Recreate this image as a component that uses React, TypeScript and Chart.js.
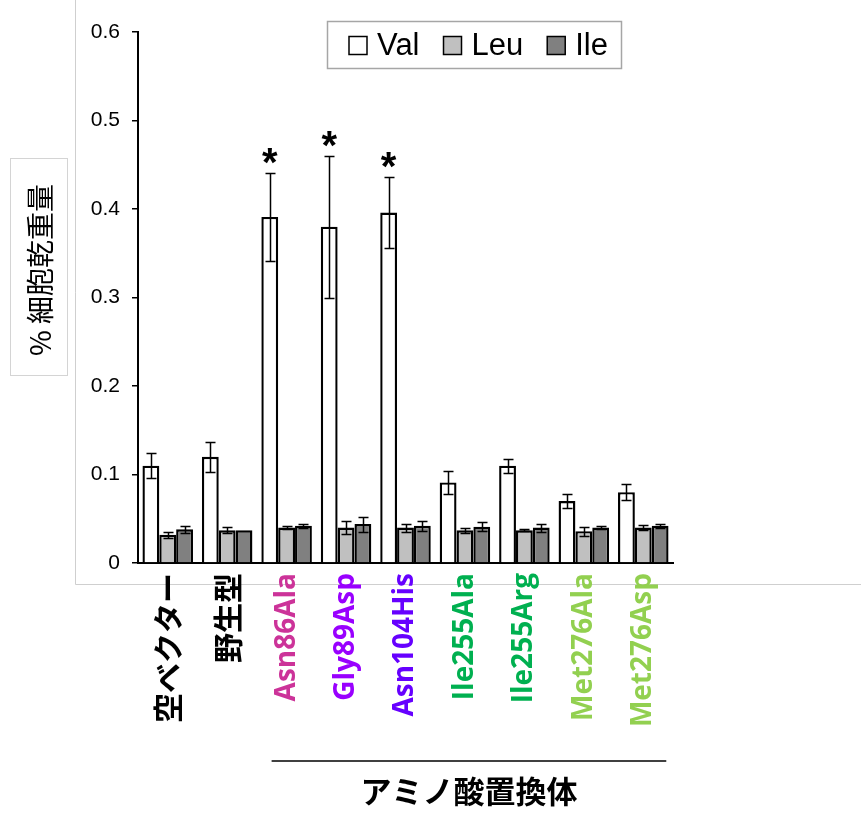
import React, { useEffect, useRef } from 'react';
import { Chart, registerables } from 'chart.js';

Chart.register(...registerables);

const categories = ['空ベクター', '野生型', 'Asn86Ala', 'Gly89Asp', 'Asn104His', 'Ile255Ala', 'Ile255Arg', 'Met276Ala', 'Met276Asp'];
const labelColors = ['#000000', '#000000', '#cc3399', '#9900ff', '#6600ff', '#00b050', '#00b050', '#92d050', '#92d050'];
const cjkLabel = [true, true, false, false, false, false, false, false, false];

const seriesNames = ['Val', 'Leu', 'Ile'];
const valValues = [0.110, 0.120, 0.391, 0.380, 0.396, 0.091, 0.110, 0.070, 0.080];
const valErrors = [0.0145, 0.017, 0.050, 0.080, 0.040, 0.0125, 0.008, 0.008, 0.009];
const leuValues = [0.032, 0.037, 0.040, 0.040, 0.040, 0.037, 0.037, 0.036, 0.040];
const leuErrors = [0.0035, 0.0035, 0.002, 0.0075, 0.0045, 0.003, 0.001, 0.005, 0.003];
const ileValues = [0.038, 0.037, 0.042, 0.044, 0.042, 0.041, 0.040, 0.040, 0.042];
const ileErrors = [0.004, 0, 0.0025, 0.0085, 0.0057, 0.005, 0.0045, 0.002, 0.002];
const significant = [false, false, true, true, true, false, false, false, false];

const yMin = 0;
const yMax = 0.6;
const yStep = 0.1;

const yTitle = '% 細胞乾重量';
const groupTitle = 'アミノ酸置換体';
const groupStart = 2;
const groupEnd = 8;

const seriesColors = ['#ffffff', '#c0c0c0', '#808080'];

const W = 861;
const H = 813;

const decorPlugin = {
  id: 'decor',
  beforeDraw(chart: any) {
    const ctx = chart.ctx;
    ctx.save();
    ctx.strokeStyle = '#cfcfcf';
    ctx.lineWidth = 1;
    ctx.beginPath();
    ctx.moveTo(75.5, 0);
    ctx.lineTo(75.5, 584.5);
    ctx.lineTo(W, 584.5);
    ctx.stroke();
    ctx.restore();
  },
  afterDatasetsDraw(chart: any) {
    const ctx = chart.ctx;
    const y = chart.scales.y;
    ctx.save();
    ctx.strokeStyle = '#000';
    ctx.lineWidth = 1.5;
    chart.data.datasets.forEach((ds: any, di: number) => {
      const meta = chart.getDatasetMeta(di);
      meta.data.forEach((el: any, i: number) => {
        const v = ds.data[i];
        const e = ds.errors[i];
        if (!e) return;
        const yt = Math.round(y.getPixelForValue(v + e)) + 0.5;
        const yb = Math.round(y.getPixelForValue(v - e)) + 0.5;
        const x = Math.round(el.x) + 0.5;
        ctx.beginPath();
        ctx.moveTo(x, yt);
        ctx.lineTo(x, yb);
        ctx.moveTo(x - 5, yt);
        ctx.lineTo(x + 5, yt);
        ctx.moveTo(x - 5, yb);
        ctx.lineTo(x + 5, yb);
        ctx.stroke();
      });
    });
    // significance stars
    const meta0 = chart.getDatasetMeta(0);
    ctx.fillStyle = '#000';
    ctx.font = 'bold 40px "Liberation Sans"';
    ctx.textAlign = 'center';
    ctx.textBaseline = 'alphabetic';
    significant.forEach((s, i) => {
      if (!s) return;
      const el = meta0.data[i];
      const top = y.getPixelForValue(valValues[i] + valErrors[i]);
      ctx.fillText('*', el.x, top - 19 + 22);
    });
    ctx.restore();
  },
  afterDraw(chart: any) {
    const ctx = chart.ctx;
    const x = chart.scales.x;
    ctx.save();
    // legend
    ctx.fillStyle = '#ffffff';
    ctx.fillRect(327, 21, 295, 48);
    ctx.strokeStyle = '#a6a6a6';
    ctx.lineWidth = 1.5;
    ctx.strokeRect(327.5, 21.5, 294, 47);
    ctx.font = '31px "Liberation Sans"';
    ctx.textBaseline = 'middle';
    ctx.textAlign = 'left';
    let lx = 349;
    const ly = 45.5;
    chart.data.datasets.forEach((ds: any) => {
      ctx.fillStyle = ds.backgroundColor;
      ctx.fillRect(lx, ly - 9, 18, 18);
      ctx.strokeStyle = '#000';
      ctx.lineWidth = 1.5;
      ctx.strokeRect(lx, ly - 9, 18, 18);
      ctx.fillStyle = '#000';
      ctx.fillText(ds.label, lx + 28, ly + 1);
      lx += 28 + ctx.measureText(ds.label).width + 24;
    });
    // y title
    ctx.strokeStyle = '#d4d4d4';
    ctx.lineWidth = 1;
    ctx.strokeRect(10.5, 158.5, 57, 217);
    ctx.translate(40, 270);
    ctx.rotate(-Math.PI / 2);
    ctx.fillStyle = '#000';
    ctx.font = '28px "Noto Sans CJK JP"';
    ctx.textAlign = 'center';
    ctx.textBaseline = 'middle';
    ctx.fillText(yTitle, 0, 0);
    ctx.setTransform(1, 0, 0, 1, 0, 0);
    // group line + title
    const x1 = x.getPixelForValue(groupStart) - 15;
    const x2 = x.getPixelForValue(groupEnd) + 23;
    ctx.strokeStyle = '#000';
    ctx.lineWidth = 1.5;
    ctx.beginPath();
    ctx.moveTo(x1, 761);
    ctx.lineTo(x2, 761);
    ctx.stroke();
    ctx.fillStyle = '#000';
    ctx.font = 'bold 31px "Noto Sans CJK JP"';
    ctx.textAlign = 'center';
    ctx.textBaseline = 'middle';
    ctx.fillText(groupTitle, (x1 + x2) / 2, 791);
    ctx.restore();
  },
};

export default function App() {
  const ref = useRef<HTMLCanvasElement>(null);
  useEffect(() => {
    if (!ref.current) return;
    const values = [valValues, leuValues, ileValues];
    const errors = [valErrors, leuErrors, ileErrors];
    const chart = new Chart(ref.current, {
      type: 'bar',
      data: {
        labels: categories,
        datasets: seriesNames.map((name, i) => ({
          label: name,
          data: values[i],
          errors: errors[i],
          backgroundColor: seriesColors[i],
          borderColor: '#000000',
          borderWidth: 2.4,
          categoryPercentage: 0.85,
          barPercentage: 1.0,
        })) as any,
      },
      options: {
        responsive: false,
        animation: false,
        devicePixelRatio: 1,
        layout: { padding: { left: 0, top: 32, right: W - 673, bottom: 0 } },
        plugins: {
          legend: { display: false },
          tooltip: { enabled: false },
        },
        scales: {
          x: {
            z: 1,
            grid: { display: false, drawTicks: false },
            border: { display: true, color: '#000', width: 2 },
            ticks: {
              autoSkip: false,
              minRotation: 90,
              maxRotation: 90,
              padding: 10,
              color: (c: any) => labelColors[c.index] || '#000',
              font: (c: any) =>
                cjkLabel[c.index]
                  ? { family: '"Noto Sans CJK JP"', size: 30, weight: 'bold' }
                  : { family: '"Open Sans", "Noto Sans CJK JP"', size: 28, weight: 'bold' },
            },
            afterFit: (s: any) => {
              s.height = H - 563;
            },
          },
          y: {
            min: yMin,
            max: yMax,
            grid: { drawOnChartArea: false, drawTicks: true, tickLength: 6, color: '#000', lineWidth: 1.5 },
            border: { display: true, color: '#000', width: 2 },
            ticks: {
              stepSize: yStep,
              padding: 12,
              color: '#000',
              font: { family: '"Liberation Sans"', size: 21 },
              callback: (v: any) => (Number(v) === 0 ? '0' : Number(v).toFixed(1)),
            },
            afterFit: (s: any) => {
              s.width = 138;
            },
          },
        },
      } as any,
      plugins: [decorPlugin],
    });
    return () => chart.destroy();
  }, []);
  return (
    <div style={{ position: 'absolute', left: 0, top: 0, width: W, height: H, background: '#fff' }}>
      <canvas ref={ref} width={W} height={H} style={{ width: W, height: H }} />
    </div>
  );
}
